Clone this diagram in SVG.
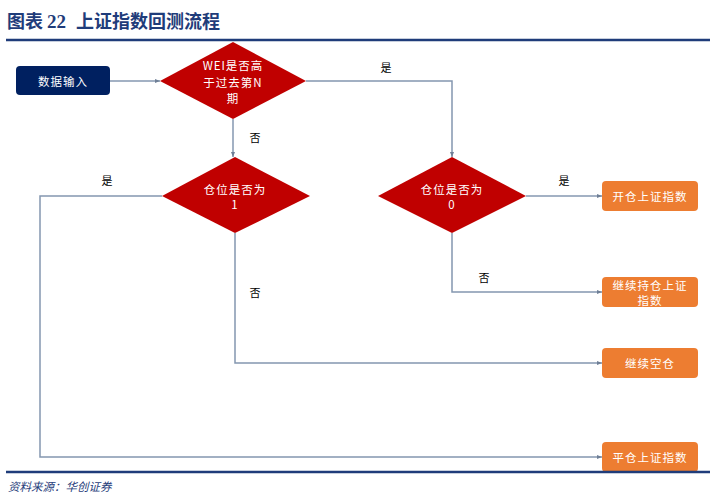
<svg xmlns="http://www.w3.org/2000/svg" width="716" height="503" viewBox="0 0 716 503">
<defs>
<style>
.t{font-family:"Noto Sans CJK SC","Liberation Sans",sans-serif;}
.title{font-size:18px;font-weight:bold;fill:#1F3C7A;}
.src{font-size:11.5px;font-style:italic;fill:#1F3C7A;}
.dia{fill:#C00000;}
.nav{fill:#002060;}
.org{fill:#ED7D31;}
.wt{font-size:11.5px;fill:#FFFFFF;text-anchor:middle;dominant-baseline:central;letter-spacing:1px;}
.lb{font-size:11px;fill:#000000;text-anchor:middle;dominant-baseline:central;}
.ln{fill:none;stroke:#8497B0;stroke-width:1.5;}
.rule{stroke:#1F3C7A;stroke-width:2.5;}
</style>
<marker id="ah" viewBox="0 0 10 10" refX="10" refY="5" markerWidth="5" markerHeight="5" orient="auto" markerUnits="userSpaceOnUse">
<path d="M0,1 L10,5 L0,9 z" fill="#6F7F96"/>
</marker>
</defs>
<rect width="716" height="503" fill="#FFFFFF"/>
<text class="t title" y="28"><tspan x="7">图表</tspan><tspan x="47" font-family="Liberation Serif, serif" font-size="19">22</tspan><tspan x="76">上证指数回测流程</tspan></text>
<line class="rule" x1="6" y1="40" x2="710" y2="40"/>

<g id="connectors">
<path class="ln" d="M110,81 L160,81" marker-end="url(#ah)"/>
<path class="ln" d="M306,81 L452,81 L452,157" marker-end="url(#ah)"/>
<path class="ln" d="M233,119 L233,157" marker-end="url(#ah)"/>
<path class="ln" d="M526,196 L602,196" marker-end="url(#ah)"/>
<path class="ln" d="M452,233 L452,292 L602,292" marker-end="url(#ah)"/>
<path class="ln" d="M235,233 L235,363 L602,363" marker-end="url(#ah)"/>
<path class="ln" d="M162,196 L40,196 L40,457 L602,457" marker-end="url(#ah)"/>
<text class="t lb" x="386" y="67">是</text>
<text class="t lb" x="255" y="137">否</text>
<text class="t lb" x="564" y="180">是</text>
<text class="t lb" x="484" y="277">否</text>
<text class="t lb" x="255" y="292">否</text>
<text class="t lb" x="107" y="180">是</text>
</g>

<g id="input">
<rect class="nav" x="16" y="66" width="94" height="29" rx="4"/>
<text class="t wt" x="63" y="81">数据输入</text>
</g>
<g id="d1">
<polygon class="dia" points="233,42 306,81 233,119 160,81"/>
<text class="t wt" x="233" y="65">WEI是否高</text>
<text class="t wt" x="233" y="82">于过去第N</text>
<text class="t wt" x="233" y="98">期</text>
</g>
<g id="d2">
<polygon class="dia" points="235,157 310,196 235,233 162,196"/>
<text class="t wt" x="235" y="189">仓位是否为</text>
<text class="t wt" x="235" y="204">1</text>
</g>
<g id="d3">
<polygon class="dia" points="452,157 526,196 452,233 378,196"/>
<text class="t wt" x="452" y="189">仓位是否为</text>
<text class="t wt" x="452" y="204">0</text>
</g>
<g id="b1">
<rect class="org" x="602" y="181" width="96" height="30" rx="4"/>
<text class="t wt" x="650" y="196">开仓上证指数</text>
</g>
<g id="b2">
<rect class="org" x="602" y="277" width="96" height="30" rx="4"/>
<text class="t wt" x="650" y="285">继续持仓上证</text>
<text class="t wt" x="650" y="300">指数</text>
</g>
<g id="b3">
<rect class="org" x="602" y="348" width="96" height="30" rx="4"/>
<text class="t wt" x="650" y="363">继续空仓</text>
</g>
<g id="b4">
<rect class="org" x="602" y="442" width="96" height="30" rx="4"/>
<text class="t wt" x="650" y="457">平仓上证指数</text>
</g>

<line class="rule" x1="6" y1="472" x2="710" y2="472"/>
<text class="t src" x="8" y="491">资料来源：华创证券</text>
</svg>
